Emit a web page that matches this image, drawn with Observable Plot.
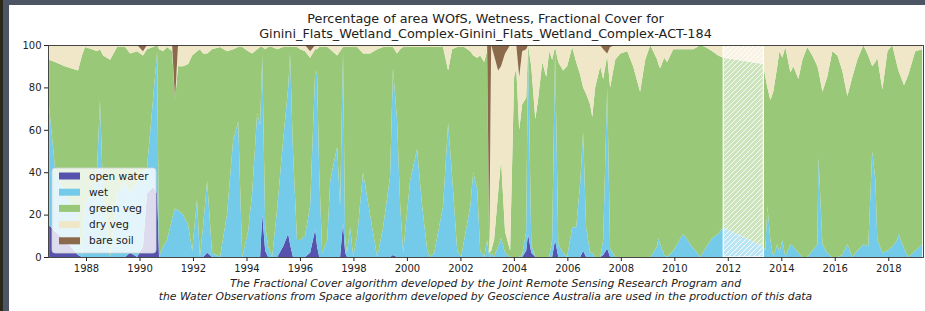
<!DOCTYPE html>
<html><head><meta charset="utf-8">
<script src="https://cdn.jsdelivr.net/npm/d3@7"></script>
<script src="https://cdn.jsdelivr.net/npm/@observablehq/plot@0.6"></script>
<style>
html,body{margin:0;padding:0;background:#fff;}
#wrap{position:relative;width:925px;height:311px;overflow:hidden;font-family:"DejaVu Sans",sans-serif;color:#222;}
#chart{position:absolute;left:0;top:0;}
.title{position:absolute;left:48px;width:875px;top:12px;text-align:center;font-size:12.8px;line-height:14.5px;}
.caption{position:absolute;left:48px;width:875px;top:277px;text-align:center;font-size:10.8px;line-height:13px;font-style:italic;}
.edgeTop{position:absolute;left:0;top:0;width:925px;height:5px;background:#4b5563;}
.edgeLeft{position:absolute;left:0;top:0;width:9px;height:311px;background:#4b5563;}
.edgeLeft2{position:absolute;left:0;top:0;width:3px;height:311px;background:#2b2819;}
</style></head><body>
<div id="wrap">
  <div id="chart"></div>
  <div class="title" id="title"></div>
  <div class="caption" id="caption"></div>
  <div class="edgeTop"></div><div class="edgeLeft"></div><div class="edgeLeft2"></div>
</div>
<script>
const titleLines = ["Percentage of area WOfS, Wetness, Fractional Cover for",
  "Ginini_Flats_Wetland_Complex-Ginini_Flats_Wetland_Complex-ACT-184"];
const captionLines = ["The Fractional Cover algorithm developed by the Joint Remote Sensing Research Program and",
  "the Water Observations from Space algorithm developed by Geoscience Australia are used in the production of this data"];
const seriesNames = ["open water","wet","green veg","dry veg","bare soil"];
const seriesColors = ["#5652ad","#74cbe9","#98c878","#f0e7c8","#8a6a4a"];
const xTickYears = [1988,1990,1992,1994,1996,1998,2000,2002,2004,2006,2008,2010,2012,2014,2016,2018];
const yTicks = [0,20,40,60,80,100];
const xRange = [1986.578, 2019.30];
const noDataPeriod = [2011.83, 2013.33];

// observation dates (decimal years)
const dates = [1986.62,1986.84,1987.21,1987.70,1987.85,1987.96,1988.22,1988.41,1988.52,1988.64,
1988.90,1989.16,1989.46,1989.65,1989.91,1990.13,1990.28,1990.51,1990.66,1990.73,
1990.88,1991.03,1991.22,1991.33,1991.44,1991.63,1991.82,1991.97,1992.15,1992.26,
1992.38,1992.53,1992.71,1993.01,1993.27,1993.50,1993.69,1993.84,1994.06,1994.21,
1994.40,1994.51,1994.59,1994.70,1994.81,1994.96,1995.15,1995.37,1995.56,1995.63,
1995.74,1995.89,1996.01,1996.19,1996.38,1996.57,1996.64,1996.72,1996.83,1997.02,
1997.13,1997.39,1997.50,1997.61,1997.69,1997.76,1997.88,1997.99,1998.14,1998.36,
1998.62,1998.89,1999.11,1999.37,1999.48,1999.63,1999.75,1999.86,2000.12,2000.38,
2000.57,2000.76,2000.87,2001.02,2001.35,2001.54,2001.69,2001.88,2002.03,2002.14,
2002.37,2002.48,2002.63,2002.74,2002.89,2003.00,2003.08,2003.15,2003.26,2003.41,
2003.52,2003.67,2003.86,2004.01,2004.09,2004.20,2004.31,2004.46,2004.53,2004.65,
2004.80,2004.91,2005.06,2005.21,2005.32,2005.43,2005.54,2005.66,2005.84,2005.99,
2006.18,2006.33,2006.48,2006.59,2006.70,2006.85,2006.93,2007.04,2007.23,2007.34,
2007.49,2007.60,2007.79,2007.98,2008.24,2008.46,2008.72,2008.91,2009.10,2009.36,
2009.40,2009.47,2009.62,2009.73,2009.96,2010.33,2010.71,2010.86,2010.97,2011.16,
2011.42,2011.64,2011.83,2013.33,2013.40,2013.48,2013.59,2013.70,2013.85,2013.93,
2014.04,2014.15,2014.34,2014.45,2014.64,2014.79,2014.97,2015.16,2015.35,2015.39,
2015.54,2015.72,2015.91,2016.10,2016.28,2016.47,2016.66,2016.84,2017.07,2017.25,
2017.40,2017.52,2017.59,2017.78,2017.97,2018.15,2018.34,2018.38,2018.59,2018.75,
2019.01,2019.27];

const openWater = [15,12,8,1,0,0,0,0,0,0,
0,0,0,2,0,5,30,33,30,0,
0,0,0,0,0,0,0,0,0,0,
0,2,0,0,0,0,0,0,0,0,
0,0,20,3,0,0,0,5,11,6,
0,0,0,0,2,13,5,0,0,0,
0,0,0,16,2,0,0,0,0,0,
0,0,0,0,1,0,0,0,0,0,
0,0,0,0,0,0,0,0,0,0,
0,0,0,0,0,0,0,0,0,0,
0,0,0,0,0,0,0,3,11,2,
0,0,0,0,0,0,8,0,0,0,
0,0,0,3,0,0,0,0,0,1,
4,0,0,0,0,0,0,0,0,0,
0,0,0,0,0,0,0,0,0,0,
0,0,0,0,0,0,0,0,0,0,
0,0,0,0,0,0,0,0,0,0,
0,0,0,0,0,0,0,0,0,0,
0,0,0,0,0,0,0,0,0,0,
0,0];

const wet = [56,30,22,19,0,25,30,40,74,30,
0,30,35,28,35,35,12,42,67,0,
5,8,18,23,22,20,15,3,27,0,
15,34,2,0,20,55,64,0,12,30,
68,62,75,12,5,0,23,50,69,90,
50,8,8,10,22,75,81,40,2,8,
36,52,24,81,6,2,14,0,10,40,
20,0,14,38,88,65,24,2,36,51,
24,3,0,2,24,63,38,3,0,8,
24,40,32,3,0,8,0,2,0,5,
9,2,0,0,0,0,1,9,88,4,
0,0,0,0,0,8,89,6,2,0,
14,14,35,56,14,2,2,0,0,7,
76,4,0,0,0,0,0,0,0,5,
9,6,1,0,3,11,4,2,0,4,
9,11,14,5,3,24,8,0,6,2,
8,0,6,5,2,0,0,3,6,47,
6,2,0,0,1,6,0,3,6,5,
50,36,8,2,3,5,8,11,4,0,
3,6];

const greenVeg = [22,50,60,68,95,74,68,57,24,65,
93,69,64,66,62,55,56,24,3,98,
92,91,79,51,68,70,76,92,70,98,
81,60,96,99,77,43,35,99,85,66,
30,37,4,83,94,99,75,44,19,3,
49,91,90,87,70,10,12,59,97,91,
62,43,73,2,91,97,85,99,89,56,
76,98,85,61,10,31,74,97,63,48,
75,96,99,97,75,25,60,96,99,91,
73,55,62,92,92,89,2,1,8,25,
37,10,3,85,89,60,71,63,1,84,
65,75,92,85,97,85,2,86,86,90,
85,78,51,21,63,70,64,80,90,76,
15,76,93,96,97,90,78,93,100,88,
82,83,93,92,95,87,94,97,100,95,
88,84,80,86,82,56,66,78,84,95,
86,99,81,85,82,93,99,92,84,41,
72,83,97,95,87,70,85,90,94,90,
40,56,86,77,94,95,82,77,77,86,
94,92];

const dryVeg = [7,8,10,12,5,1,2,3,2,5,
7,1,1,4,3,2,2,1,0,2,
3,1,3,0,10,10,9,5,3,2,
4,4,2,1,3,2,1,1,3,4,
2,1,1,2,1,1,2,1,1,1,
1,1,2,3,3,2,2,1,1,1,
2,5,3,1,1,1,1,1,1,4,
4,2,1,1,1,4,2,1,1,1,
1,1,1,1,1,12,2,1,1,1,
3,5,6,5,8,3,3,97,87,58,
44,84,97,15,11,25,25,23,0,10,
35,25,8,15,3,7,1,8,12,10,
1,8,14,20,23,28,34,20,10,14,
1,19,7,4,3,10,22,7,0,7,
9,11,6,8,2,2,2,1,0,1,
3,5,6,9,15,20,26,22,10,3,
6,1,13,10,16,7,1,5,10,12,
22,15,3,5,12,24,15,7,0,5,
10,8,6,21,3,0,10,12,19,14,
3,2];

const bareSoil = [0,0,0,0,0,0,0,0,0,0,
0,0,0,0,0,3,0,0,0,0,
0,0,0,26,0,0,0,0,0,0,
0,0,0,0,0,0,0,0,0,0,
0,0,0,0,0,0,0,0,0,0,
0,0,0,0,3,0,0,0,0,0,
0,0,0,0,0,0,0,0,0,0,
0,0,0,0,0,0,0,0,0,0,
0,0,0,0,0,0,0,0,0,0,
0,0,0,0,0,0,95,0,5,12,
10,4,0,0,0,15,3,2,0,0,
0,0,0,0,0,0,0,0,0,0,
0,0,0,0,0,0,0,0,0,2,
4,1,0,0,0,0,0,0,0,0,
0,0,0,0,0,0,0,0,0,0,
0,0,0,0,0,0,0,0,0,0,
0,0,0,0,0,0,0,0,0,0,
0,0,0,0,0,0,0,0,0,0,
0,0,0,0,0,0,0,0,0,0,
0,0];

const seriesValues = [openWater, wet, greenVeg, dryVeg, bareSoil];

function toDate(y){
  const yr = Math.floor(y);
  const a = Date.UTC(yr,0,1), b = Date.UTC(yr+1,0,1);
  return new Date(a + (y-yr)*(b-a));
}

const rows = [];
dates.forEach((d,i)=>{
  seriesNames.forEach((s,k)=>rows.push({date: toDate(d), series: s, value: seriesValues[k][i]}));
});
const gapRows = [{start: toDate(noDataPeriod[0]), end: toDate(noDataPeriod[1]), lo: 0, hi: 100}];

const chart = Plot.plot({
  width: 925, height: 311,
  marginLeft: 48, marginRight: 2, marginTop: 45, marginBottom: 54,
  x: {type: "utc", domain: xRange.map(toDate), ticks: xTickYears.map(y=>new Date(Date.UTC(y,0,1))),
      tickFormat: d3.utcFormat("%Y"), tickSize: 4, tickPadding: 3, label: null},
  y: {domain: [0,100], ticks: yTicks, tickSize: 4, tickPadding: 3, label: null},
  color: {domain: seriesNames, range: seriesColors},
  style: {fontFamily: "DejaVu Sans", fontSize: "10px", color: "#222", background: "transparent", overflow: "visible"},
  marks: [
    Plot.areaY(rows, {x: "date", y: "value", fill: "series", order: seriesNames, curve: "linear"}),
    Plot.rect(gapRows, {x1: "start", x2: "end", y1: "lo", y2: "hi", fill: "white", fillOpacity: 0.5, stroke: "white", strokeWidth: 1.2}),
    Plot.rect(gapRows, {x1: "start", x2: "end", y1: "lo", y2: "hi", fill: "white", stroke: "none"}),
    Plot.frame({stroke: "#333", strokeWidth: 0.9})
  ]
});
document.getElementById("chart").appendChild(chart);

const svg = d3.select(chart);
const defs = svg.insert("defs", ":first-child");
const pat = defs.append("pattern").attr("id","hatch").attr("patternUnits","userSpaceOnUse")
  .attr("width",5).attr("height",5);
pat.append("path").attr("d","M-1,1 l2,-2 M0,5 l5,-5 M4,6 l2,-2")
  .attr("stroke","white").attr("stroke-opacity",0.9).attr("stroke-width",1).attr("fill","none");
// the second gap rectangle mark gets the hatch pattern
const rectGroups = svg.selectAll('g[aria-label="rect"]').nodes();
if (rectGroups.length >= 2) {
  d3.select(rectGroups[1]).attr("fill", "url(#hatch)").selectAll("rect").attr("fill", "url(#hatch)");
}

// legend
const lg = svg.append("g").attr("text-anchor","start");
lg.append("rect").attr("x",52).attr("y",168).attr("width",104).attr("height",85).attr("rx",3)
  .attr("fill","white").attr("fill-opacity",0.8).attr("stroke","#d0d0d0").attr("stroke-width",0.8);
seriesNames.forEach((s,i)=>{
  const cy = 176 + i*16.2;
  lg.append("rect").attr("x",59).attr("y",cy-3.5).attr("width",21).attr("height",7).attr("fill",seriesColors[i]);
  lg.append("text").attr("x",89).attr("y",cy).attr("dy","0.35em").attr("font-size",10.5).attr("fill","#222").attr("text-anchor","start").text(s);
});

document.getElementById("title").innerHTML = titleLines.join("<br>");
document.getElementById("caption").innerHTML = captionLines.join("<br>");
</script>
</body></html>
